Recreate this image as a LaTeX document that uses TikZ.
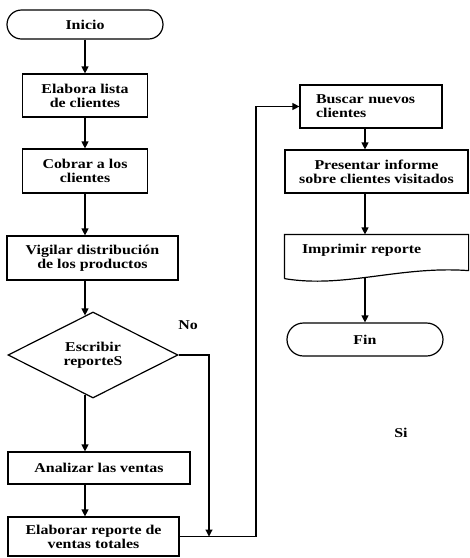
\documentclass[tikz,border=0pt]{standalone}
\usepackage{fontspec}
\setmainfont{Liberation Serif}[FakeStretch=1.18]
\usetikzlibrary{arrows.meta,shapes.geometric,shapes.misc,calc}

\begin{document}
\begin{tikzpicture}[x=1pt,y=-1pt,line width=1.2pt,
  every node/.style={font=\bfseries\fontsize{13.5}{14}\selectfont},
  box/.style={draw,rectangle,inner sep=0pt,align=center},
  lbox/.style={draw,rectangle,inner ysep=0pt,align=left},
  term/.style={draw,rounded rectangle,inner sep=0pt},
  decision/.style={draw,diamond,inner sep=0pt,align=center},
  flow/.style={-{Triangle[length=7pt,width=7pt]}}]

  \useasboundingbox (0,0) rectangle (470,558);

  % left column
  \node[term,minimum width=156,minimum height=29] (inicio) at (85,24.5) {Inicio};
  \node[box,minimum width=125,minimum height=43] (elabora) at (85,95.5) {Elabora lista\\de clientes};
  \node[box,minimum width=125,minimum height=44] (cobrar) at (85,171) {Cobrar a los\\clientes};
  \node[box,minimum width=171,minimum height=44] (vigilar) at (92.5,258) {Vigilar distribución\\de los productos};
  \node[decision,minimum width=170,minimum height=86] (escribir) at (93,355) {Escribir\\reporteS};
  \node[box,minimum width=182,minimum height=32] (analizar) at (99,468) {Analizar las ventas};
  \node[box,minimum width=171,minimum height=39] (elaborar) at (93.5,536.5) {Elaborar reporte de\\ventas totales};

  % right column
  \node[lbox,text width=110,inner xsep=16,minimum height=43] (buscar) at (371,106.5) {Buscar nuevos\\clientes};
  \node[box,minimum width=183,minimum height=43] (presentar) at (376.5,171.5) {Presentar informe\\sobre clientes visitados};
  \node[rectangle,inner ysep=0pt,inner xsep=17,text width=149,align=left,
        text height=18,text depth=25] (imprimir) at (376.5,256.5) {Imprimir reporte};
  \node[term,minimum width=156,minimum height=33] (fin) at (365,339.5) {Fin};

  % document outline with wavy bottom
  \draw (imprimir.south west) -- (imprimir.north west) -- (imprimir.north east)
        -- ($(imprimir.south east)+(0,-8)$)
        .. controls ($(imprimir.south east)+(-69,-13)$) and ($(imprimir.south west)+(60,10)$) .. (imprimir.south west);

  % branch labels
  \node (no) at (188,325) {No};
  \node (si) at (401,433) {Si};

  % junction points of the loop lines
  \coordinate (loopx) at (256,0);
  \coordinate (noend) at (209,536.5);

  % main flow, left column
  \draw[flow] (inicio.south) -- (elabora.north);
  \draw[flow] (elabora.south) -- (cobrar.north);
  \draw[flow] (cobrar.south) -- (cobrar.south |- vigilar.north);
  \draw[flow] (vigilar.south -| cobrar.south) -- ($(escribir.north)+(-8,4)$);
  \draw[flow] ($(escribir.south)+(-8,-4)$) -- (cobrar.south |- analizar.north);
  \draw[flow] (analizar.south -| cobrar.south) -- (cobrar.south |- elaborar.north);

  % "No" branch and link to the right column
  \draw[flow] (escribir.east) -| (noend);
  \draw[flow] (elaborar.east) -- (elaborar.east -| loopx) |- (buscar.west);

  % main flow, right column
  \draw[flow] (buscar.south -| fin.north) -- (presentar.north -| fin.north);
  \draw[flow] (presentar.south -| fin.north) -- (imprimir.north -| fin.north);
  \draw[flow] ($(imprimir.south -| fin.north)+(0,-2)$) -- (fin.north);
\end{tikzpicture}
\end{document}
